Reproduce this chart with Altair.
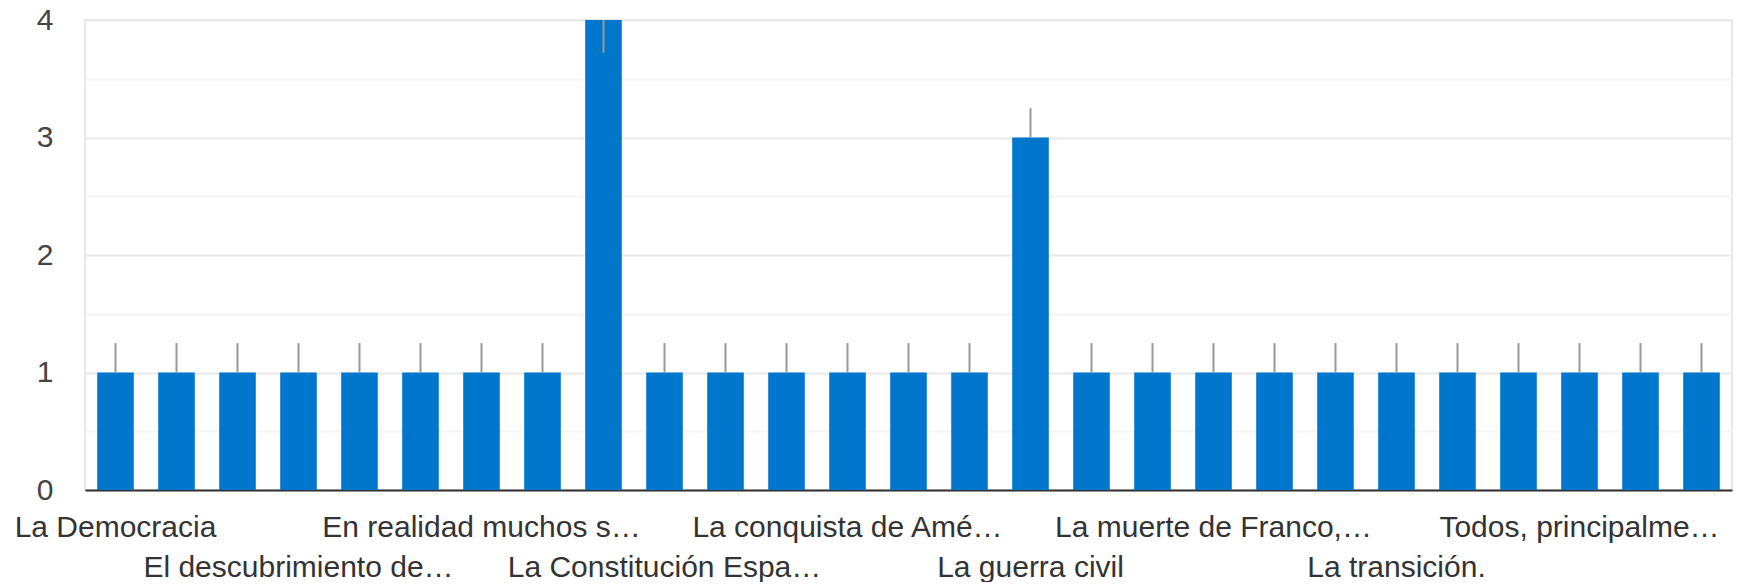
import altair as alt
import pandas as pd

# ---- data ----
values = [1, 1, 1, 1, 1, 1, 1, 1, 4, 1, 1, 1, 1, 1, 1, 3,
          1, 1, 1, 1, 1, 1, 1, 1, 1, 1, 1]
err_lo = [1, 1, 1, 1, 1, 1, 1, 1, 3.72, 1, 1, 1, 1, 1, 1, 3,
          1, 1, 1, 1, 1, 1, 1, 1, 1, 1, 1]
err_hi = [1.25, 1.25, 1.25, 1.25, 1.25, 1.25, 1.25, 1.25, 4, 1.25, 1.25, 1.25, 1.25, 1.25, 1.25, 3.25,
          1.25, 1.25, 1.25, 1.25, 1.25, 1.25, 1.25, 1.25, 1.25, 1.25, 1.25]
labels = ["La Democracia", "", "", "El descubrimiento de…", "", "",
          "En realidad muchos s…", "", "", "La Constitución Espa…", "", "",
          "La conquista de Amé…", "", "", "La guerra civil", "", "",
          "La muerte de Franco,…", "", "", "La transición.", "", "",
          "Todos, principalme…", "", ""]
y_ticks = [0, 0.5, 1, 1.5, 2, 2.5, 3, 3.5, 4]

df = pd.DataFrame({
    "idx": list(range(len(values))),
    "value": values,
    "lo": err_lo,
    "hi": err_hi,
    "label": labels,
})
df["row"] = (df["idx"] // 3) % 2

FONT = "Liberation Sans"

x = alt.X("idx:O",
          scale=alt.Scale(paddingInner=0.4, paddingOuter=0.2),
          axis=alt.Axis(title=None, labels=False, ticks=False,
                        domainColor="#333333", domainWidth=2, grid=False))

base = alt.Chart(df)

bars = base.mark_bar(color="#0077cc").encode(
    x=x,
    y=alt.Y("value:Q",
            scale=alt.Scale(domain=[0, 4], nice=False),
            axis=alt.Axis(title=None, values=y_ticks,
                          labelExpr="datum.value % 1 == 0 ? format(datum.value, 'd') : ''",
                          ticks=False, domain=False,
                          labelFont=FONT, labelFontSize=30, labelColor="#444444",
                          labelPadding=32,
                          gridColor={"condition": {"test": "datum.value % 1 != 0",
                                                   "value": "#f4f4f4"},
                                     "value": "#e8e8e8"},
                          gridWidth=2)),
)

errs = base.mark_rule(color="#999999", strokeWidth=2).encode(
    x=alt.X("idx:O"),
    y=alt.Y("lo:Q"),
    y2="hi:Q",
)

text_row0 = base.transform_filter(
    "datum.label != '' && datum.row == 0"
).mark_text(font=FONT, fontSize=30, color="#333333", baseline="alphabetic",
            align="center").encode(
    x=alt.X("idx:O"),
    y=alt.value(517),
    text="label:N",
)

text_row1 = base.transform_filter(
    "datum.label != '' && datum.row == 1"
).mark_text(font=FONT, fontSize=30, color="#333333", baseline="alphabetic",
            align="center").encode(
    x=alt.X("idx:O"),
    y=alt.value(557),
    text="label:N",
)

chart = alt.layer(bars, errs, text_row0, text_row1).properties(
    width=1647,
    height=470,
    autosize=alt.AutoSizeParams(type="none"),
    padding={"left": 77, "top": 12, "right": 4, "bottom": 92},
).configure_view(
    stroke="#e8e8e8", strokeWidth=2
)

chart.save("out.html", embed_options={"renderer": "svg", "actions": False})
